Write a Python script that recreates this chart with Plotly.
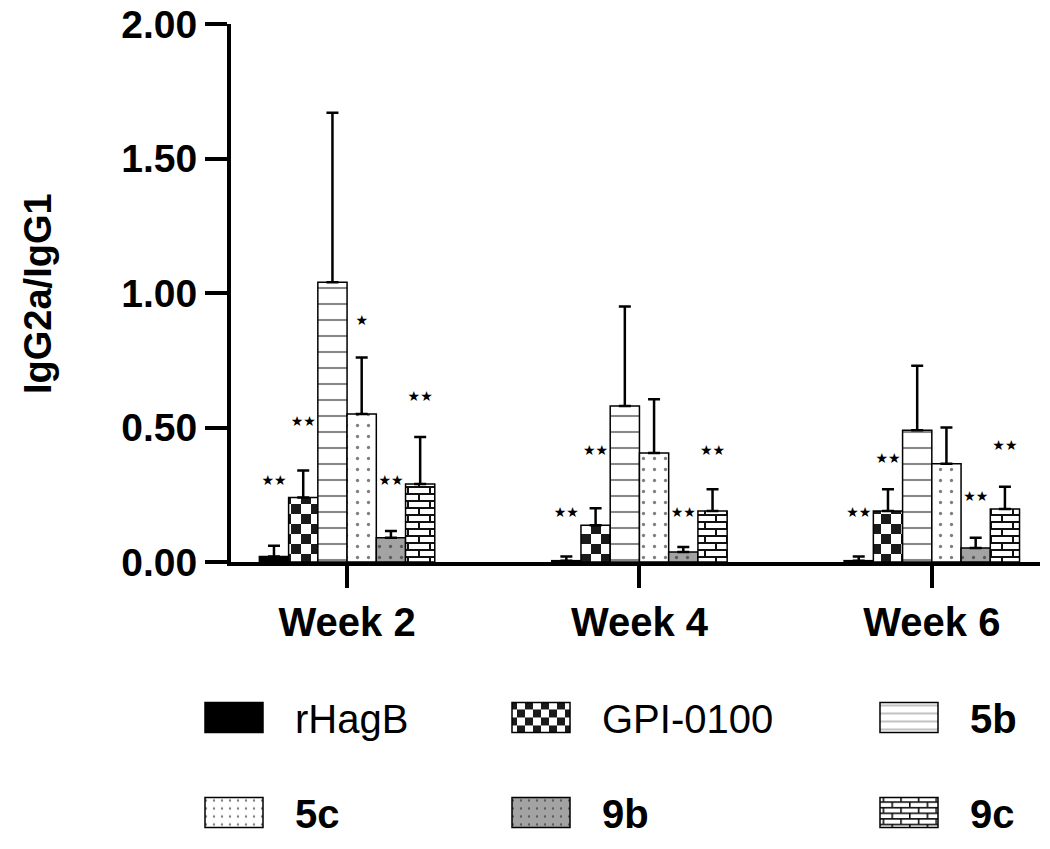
import plotly.graph_objects as go

# ---------------- data ----------------
weeks = ["Week 2", "Week 4", "Week 6"]
series_names = ["rHagB", "GPI-0100", "5b", "5c", "9b", "9c"]
legend_labels = ["rHagB", "GPI-0100", "<b>5b</b>", "<b>5c</b>", "<b>9b</b>", "<b>9c</b>"]

rhagb_mean = [0.020, 0.005, 0.005]
rhagb_sd = [0.040, 0.015, 0.015]
gpi_mean = [0.240, 0.137, 0.190]
gpi_sd = [0.100, 0.063, 0.080]
b5_mean = [1.040, 0.580, 0.490]
b5_sd = [0.630, 0.370, 0.240]
c5_mean = [0.550, 0.405, 0.365]
c5_sd = [0.210, 0.200, 0.135]
b9_mean = [0.090, 0.037, 0.052]
b9_sd = [0.025, 0.019, 0.038]
c9_mean = [0.290, 0.190, 0.197]
c9_sd = [0.175, 0.080, 0.083]

# significance marks and the height at which they are printed
rhagb_sig = ["★★", "★★", "★★"]
rhagb_sig_y = [0.30, 0.18, 0.18]
gpi_sig = ["★★", "★★", "★★"]
gpi_sig_y = [0.52, 0.41, 0.38]
b5_sig = ["", "", ""]
b5_sig_y = [None, None, None]
c5_sig = ["★", "", ""]
c5_sig_y = [0.895, None, None]
b9_sig = ["★★", "★★", "★★"]
b9_sig_y = [0.30, 0.18, 0.24]
c9_sig = ["★★", "★★", "★★"]
c9_sig_y = [0.61, 0.41, 0.43]

y_ticks = [0, 0.5, 1.0, 1.5, 2.0]
y_tick_text = ["0.00", "0.50", "1.00", "1.50", "2.00"]
y_title = "IgG2a/IgG1"

means = [rhagb_mean, gpi_mean, b5_mean, c5_mean, b9_mean, c9_mean]
sds = [rhagb_sd, gpi_sd, b5_sd, c5_sd, b9_sd, c9_sd]
sigs = [rhagb_sig, gpi_sig, b5_sig, c5_sig, b9_sig, c9_sig]
sig_ys = [rhagb_sig_y, gpi_sig_y, b5_sig_y, c5_sig_y, b9_sig_y, c9_sig_y]

# ---------------- styles ----------------
FONT = "Liberation Sans, Arial, sans-serif"
styles = [
    dict(color="#000000"),
    dict(color="#ffffff", pattern=dict(shape="x", size=14, solidity=0.5,
                                       fgcolor="#1a1a1a", bgcolor="#ffffff"), meta="checker"),
    dict(color="#ffffff", pattern=dict(shape="-", size=16, solidity=0.13,
                                       fgcolor="#111111", bgcolor="#ffffff")),
    dict(color="#ffffff", pattern=dict(shape=".", size=11, solidity=0.07,
                                       fgcolor="#000000", bgcolor="#ffffff")),
    dict(color="#a3a3a3", pattern=dict(shape=".", size=11, solidity=0.07,
                                       fgcolor="#111111", bgcolor="#a3a3a3")),
    dict(color="#ffffff", pattern=dict(shape="+", size=12, solidity=0.3,
                                       fgcolor="#111111", bgcolor="#ffffff"), meta="brick"),
]
legend_ids = ["legend", "legend2", "legend3", "legend", "legend2", "legend3"]

fig = go.Figure()
for i, name in enumerate(series_names):
    st = styles[i]
    marker = dict(color=st["color"], line=dict(color="#000000", width=1.5))
    if "pattern" in st:
        marker["pattern"] = st["pattern"]
    fig.add_trace(go.Bar(
        x=weeks, y=means[i], name=legend_labels[i],
        marker=marker, meta=st.get("meta", ""),
        legend=legend_ids[i], legendgroup=name,
        error_y=dict(type="data", symmetric=False, array=sds[i],
                     arrayminus=[0] * len(weeks), color="#000000",
                     thickness=2.5, width=6),
    ))

for i, name in enumerate(series_names):
    fig.add_trace(go.Scatter(
        x=weeks, y=sig_ys[i], text=sigs[i], mode="text",
        textposition="middle center",
        textfont=dict(family="DejaVu Sans", size=14, color="#000000"),
        showlegend=False, hoverinfo="skip",
    ))

leg_common = dict(
    orientation="v", xref="container", yref="container",
    xanchor="left", yanchor="top", y=0.1932,
    font=dict(family=FONT, size=40, color="#000000"),
    itemwidth=112, traceorder="grouped", tracegroupgap=40,
    bgcolor="rgba(0,0,0,0)", borderwidth=0,
)

fig.update_layout(
    width=1050, height=849,
    margin=dict(l=231, r=10, t=24, b=287, autoexpand=False),
    paper_bgcolor="#ffffff", plot_bgcolor="#ffffff",
    barmode="group", bargap=0.4, bargroupgap=0,
    scattermode="group", scattergap=0.4,
    showlegend=True,
    legend=dict(leg_common, x=173 / 1050),
    legend2=dict(leg_common, x=480 / 1050),
    legend3=dict(leg_common, x=848 / 1050),
    font=dict(family=FONT, color="#000000"),
    xaxis=dict(
        type="category", range=[-0.397, 2.37],
        showline=True, linecolor="#000000", linewidth=4,
        ticks="outside", ticklen=22, tickwidth=4, tickcolor="#000000",
        tickfont=dict(family=FONT, size=40, color="#000000", weight="bold"),
        showgrid=False, zeroline=False, automargin=False,
        ticklabeloverflow="allow",
    ),
    yaxis=dict(
        range=[0, 2.0], tickvals=y_ticks, ticktext=y_tick_text,
        showline=True, linecolor="#000000", linewidth=4,
        ticks="outside", ticklen=22, tickwidth=4, tickcolor="#000000",
        tickfont=dict(family=FONT, size=39, color="#000000", weight="bold"),
        showgrid=False, zeroline=False, automargin=False,
        ticklabeloverflow="allow",
    ),
    annotations=[dict(
        text="<b>" + y_title + "</b>", textangle=-90,
        xref="paper", yref="paper", x=-0.2386, y=0.5,
        xanchor="center", yanchor="middle", showarrow=False,
        font=dict(family=FONT, size=38, color="#000000"),
    )],
)

post_js = r"""
(function(){
  document.body.style.margin = '0';
  document.body.style.overflow = 'hidden';
  var gd = document.getElementById('{plot_id}');
  var NS = 'http://www.w3.org/2000/svg';
  function fid(el){
    var f = (el.style && el.style.fill) || el.getAttribute('fill') || '';
    var m = f.match(/#([^'"\)]+)/);
    return m ? m[1] : null;
  }
  function rect(p, x, y, w, h, c){
    var r = document.createElementNS(NS, 'rect');
    r.setAttribute('x', x); r.setAttribute('y', y);
    r.setAttribute('width', w); r.setAttribute('height', h);
    r.setAttribute('fill', c); p.appendChild(r);
  }
  var makers = {
    checker: function(p){
      p.setAttribute('width', 20); p.setAttribute('height', 20);
      rect(p, 0, 0, 20, 20, '#ffffff');
      rect(p, 0, 0, 10, 10, '#1a1a1a');
      rect(p, 10, 10, 10, 10, '#1a1a1a');
    },
    brick: function(p){
      p.setAttribute('width', 22); p.setAttribute('height', 14);
      rect(p, 0, 0, 22, 14, '#ffffff');
      rect(p, 0, 0, 22, 2, '#111111');
      rect(p, 0, 7, 22, 2, '#111111');
      rect(p, 0, 0, 2, 7, '#111111');
      rect(p, 11, 7, 2, 7, '#111111');
    }
  };
  var map = {};
  gd.querySelectorAll('g.trace.bars').forEach(function(g){
    var cd = g.__data__; if(!cd || !cd[0]) return;
    var t = cd[0].trace;
    g.querySelectorAll('path').forEach(function(p){
      var id = fid(p); if(id && t.meta) map[id] = t.meta;
    });
  });
  gd.querySelectorAll('g.traces').forEach(function(g){
    var d = g.__data__; if(!d || !d[0]) return;
    var t = d[0].trace;
    g.querySelectorAll('.legendpoints path').forEach(function(p){
      p.setAttribute('d', 'M29,15H-29V-15H29Z');
      var id = fid(p); if(id && t.meta) map[id] = t.meta;
    });
  });
  Object.keys(map).forEach(function(id){
    var pat = document.getElementById(id);
    if(!pat || !makers[map[id]]) return;
    while(pat.firstChild) pat.removeChild(pat.firstChild);
    pat.setAttribute('patternUnits', 'userSpaceOnUse');
    makers[map[id]](pat);
  });
})();
"""

fig.write_html("out.html", post_script=post_js,
               config={"displayModeBar": False, "staticPlot": False})
